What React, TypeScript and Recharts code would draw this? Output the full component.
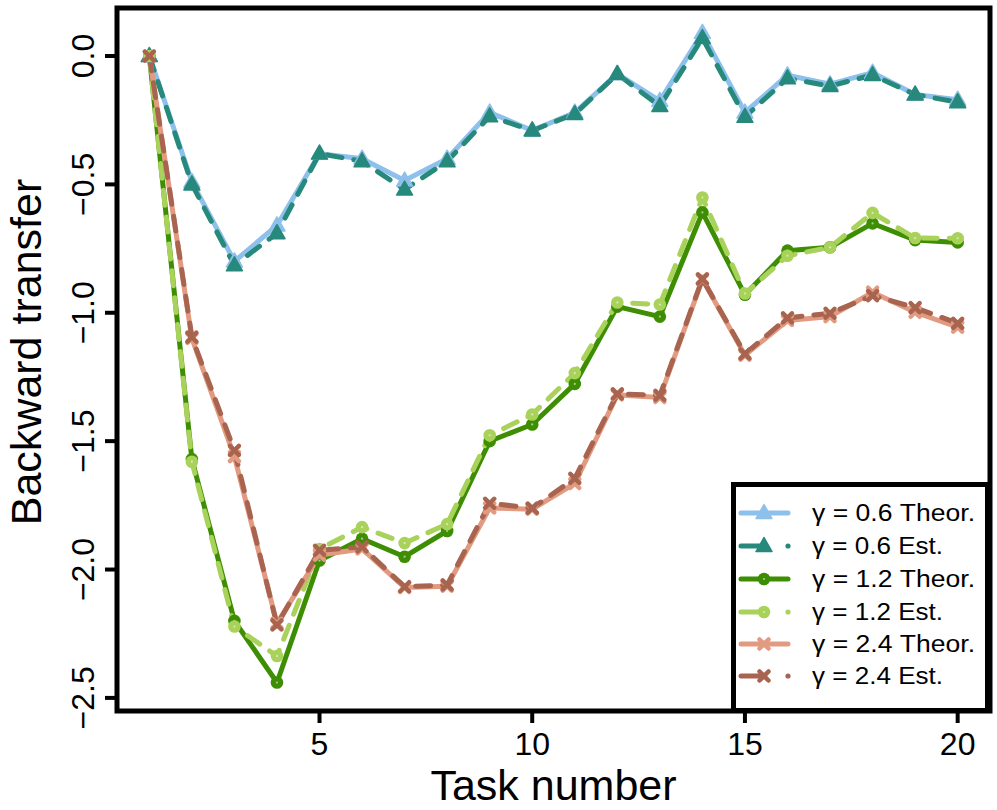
import React from 'react';
import { LineChart, Line, XAxis, YAxis, ReferenceArea, Label } from 'recharts';

const tasks = [1, 2, 3, 4, 5, 6, 7, 8, 9, 10, 11, 12, 13, 14, 15, 16, 17, 18, 19, 20];

const g06Theor = [0, -0.49, -0.80, -0.66, -0.38, -0.40, -0.485, -0.40, -0.22, -0.29, -0.22, -0.07, -0.175, 0.09, -0.22, -0.075, -0.11, -0.065, -0.15, -0.17];
const g06Est = [0, -0.50, -0.815, -0.69, -0.38, -0.41, -0.52, -0.41, -0.235, -0.29, -0.226, -0.07, -0.195, 0.07, -0.237, -0.087, -0.117, -0.074, -0.15, -0.18];
const g12Theor = [0, -1.57, -2.20, -2.44, -1.965, -1.88, -1.95, -1.85, -1.50, -1.435, -1.277, -0.976, -1.015, -0.609, -0.93, -0.758, -0.745, -0.652, -0.717, -0.726];
const g12Est = [0, -1.58, -2.222, -2.337, -1.92, -1.835, -1.897, -1.823, -1.477, -1.396, -1.235, -0.96, -0.968, -0.551, -0.925, -0.778, -0.745, -0.611, -0.709, -0.71];
const g24Theor = [0, -1.10, -1.56, -2.21, -1.944, -1.92, -2.07, -2.065, -1.76, -1.765, -1.665, -1.32, -1.33, -0.87, -1.165, -1.03, -1.015, -0.92, -0.998, -1.056];
const g24Est = [0, -1.095, -1.536, -2.216, -1.925, -1.912, -2.067, -2.06, -1.742, -1.761, -1.645, -1.316, -1.322, -0.868, -1.16, -1.02, -1.002, -0.933, -0.98, -1.041];

const xTicks = [5, 10, 15, 20];
const yTicks = [0, -0.5, -1, -1.5, -2, -2.5];

const legendLabels = [
  'γ = 0.6 Theor.', 'γ = 0.6 Est.',
  'γ = 1.2 Theor.', 'γ = 1.2 Est.',
  'γ = 2.4 Theor.', 'γ = 2.4 Est.',
];

const FONT = '"Liberation Sans", Arial, Helvetica, sans-serif';
const W = 997;
const H = 810;
const PLOT = { left: 117, right: 990, top: 8, bottom: 711 };

const C = {
  blue: '#8ec0ec',
  teal: '#26897c',
  dkGreen: '#3e8e04',
  ltGreen: '#a9d25a',
  salmon: '#e29a80',
  brown: '#a8644f',
};

const data = tasks.map((t, i) => ({
  task: t,
  g06Theor: g06Theor[i],
  g06Est: g06Est[i],
  g12Theor: g12Theor[i],
  g12Est: g12Est[i],
  g24Theor: g24Theor[i],
  g24Est: g24Est[i],
}));

type Shape = 'tri' | 'circ' | 'x';

function Marker({ cx, cy, color, shape }: { cx: number; cy: number; color: string; shape: Shape }) {
  if (shape === 'tri') {
    return <polygon points={`${cx},${cy - 8.5} ${cx - 8},${cy + 5.5} ${cx + 8},${cy + 5.5}`} fill={color} stroke={color} strokeWidth={1.5} strokeLinejoin="round" />;
  }
  if (shape === 'circ') {
    return (
      <g>
        <circle cx={cx} cy={cy} r={6.3} fill={color} />
        <circle cx={cx} cy={cy} r={1.1} fill="rgba(255,255,255,0.55)" />
      </g>
    );
  }
  return (
    <g stroke={color} strokeWidth={4.5} strokeLinecap="round">
      <line x1={cx - 4.5} y1={cy - 4.5} x2={cx + 4.5} y2={cy + 4.5} />
      <line x1={cx - 4.5} y1={cy + 4.5} x2={cx + 4.5} y2={cy - 4.5} />
    </g>
  );
}

const dotFor = (color: string, shape: Shape) => (props: any) => {
  const { cx, cy, index } = props;
  if (cx == null || cy == null) return <g key={index} />;
  return <g key={index}><Marker cx={cx} cy={cy} color={color} shape={shape} /></g>;
};

const series: { key: string; color: string; shape: Shape; dashed: boolean }[] = [
  { key: 'g06Theor', color: C.blue, shape: 'tri', dashed: false },
  { key: 'g06Est', color: C.teal, shape: 'tri', dashed: true },
  { key: 'g12Theor', color: C.dkGreen, shape: 'circ', dashed: false },
  { key: 'g12Est', color: C.ltGreen, shape: 'circ', dashed: true },
  { key: 'g24Theor', color: C.salmon, shape: 'x', dashed: false },
  { key: 'g24Est', color: C.brown, shape: 'x', dashed: true },
];

const fmt = (v: number) => (v < 0 ? '\u2212' : '') + Math.abs(v).toFixed(1);

const XTick = (props: any) => {
  const { x, y, payload } = props;
  return (
    <text x={x} y={y} dy={30} textAnchor="middle" fontFamily={FONT} fontSize={32} fill="#000">
      {payload.value}
    </text>
  );
};

const YTick = (props: any) => {
  const { x, y, payload } = props;
  const ax = x - 9;
  return (
    <text x={ax} y={y} transform={`rotate(-90, ${ax}, ${y})`} textAnchor="middle" fontFamily={FONT} fontSize={32} fill="#000">
      {fmt(payload.value)}
    </text>
  );
};

function LegendBox() {
  const rowY = [31, 64, 97, 130, 162, 194];
  return (
    <div style={{ position: 'absolute', left: 731, top: 482, width: 259, height: 231 }}>
      <svg width={259} height={231}>
        <rect x={2.5} y={2.5} width={254} height={226} fill="#fff" stroke="#000" strokeWidth={5} />
        {series.map((s, i) => {
          const y = rowY[i];
          return (
            <g key={s.key}>
              {s.dashed ? (
                <>
                  <line x1={10} y1={y} x2={33} y2={y} stroke={s.color} strokeWidth={5} strokeLinecap="round" />
                  <circle cx={57} cy={y} r={2.6} fill={s.color} />
                </>
              ) : (
                <line x1={10} y1={y} x2={57} y2={y} stroke={s.color} strokeWidth={5} strokeLinecap="round" />
              )}
              <Marker cx={33} cy={y} color={s.color} shape={s.shape} />
              <text
                x={81}
                y={y + 8}
                fontFamily={FONT}
                fontSize={23}
                fill="#000"
                textLength={s.dashed ? 131 : 163}
                lengthAdjust="spacingAndGlyphs"
              >
                {legendLabels[i]}
              </text>
            </g>
          );
        })}
      </svg>
    </div>
  );
}

export default function App() {
  return (
    <div style={{ position: 'absolute', left: 0, top: 0, width: W, height: H, background: '#fff' }}>
      <LineChart
        width={W}
        height={H}
        data={data}
        margin={{ top: PLOT.top, right: W - PLOT.right, bottom: H - PLOT.bottom - 30, left: PLOT.left - 60 }}
      >
        <XAxis
          type="number"
          dataKey="task"
          domain={[0.24, 20.76]}
          ticks={xTicks}
          allowDataOverflow
          axisLine={false}
          tickLine={{ stroke: '#000', strokeWidth: 4 }}
          tickSize={12}
          height={30}
          tick={<XTick />}
          interval={0}
        >
          <Label
            content={() => (
              <text x={(PLOT.left + PLOT.right) / 2} y={800} textAnchor="middle" fontFamily={FONT} fontSize={43} fill="#000">
                Task number
              </text>
            )}
          />
        </XAxis>
        <YAxis
          type="number"
          domain={[-2.551, 0.187]}
          ticks={yTicks}
          allowDataOverflow
          axisLine={false}
          tickLine={{ stroke: '#000', strokeWidth: 4 }}
          tickSize={12}
          width={60}
          tick={<YTick />}
          interval={0}
        >
          <Label
            content={() => (
              <text x={41} y={352} transform="rotate(-90, 41, 352)" textAnchor="middle" fontFamily={FONT} fontSize={43} fill="#000">
                Backward transfer
              </text>
            )}
          />
        </YAxis>
        <ReferenceArea
          x1={0.24}
          x2={20.76}
          y1={-2.551}
          y2={0.187}
          fill="none"
          fillOpacity={0}
          stroke="#000"
          strokeWidth={5}
          ifOverflow="visible"
        />
        {series.map((s) => (
          <Line
            key={s.key}
            type="linear"
            dataKey={s.key}
            stroke={s.color}
            strokeWidth={5}
            strokeLinecap="round"
            strokeDasharray={s.dashed ? '15 12' : undefined}
            dot={dotFor(s.color, s.shape)}
            activeDot={false}
            isAnimationActive={false}
          />
        ))}
      </LineChart>
      <LegendBox />
    </div>
  );
}
